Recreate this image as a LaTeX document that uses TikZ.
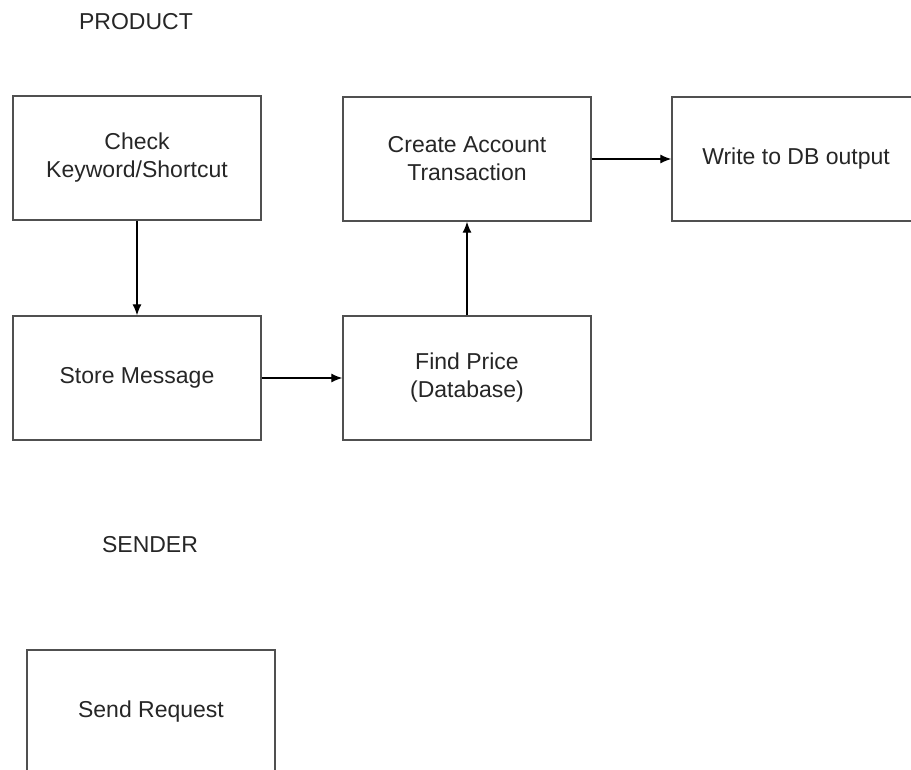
\documentclass[tikz,border=0pt]{standalone}
\usepackage{fontspec}
\setmainfont{Liberation Sans}
\usetikzlibrary{arrows.meta}
\definecolor{boxline}{HTML}{505050}
\definecolor{inktext}{HTML}{262626}
\tikzset{
  stepbox/.style={draw=boxline, line width=1.4pt, fill=white, rectangle,
    minimum width=248pt, minimum height=124pt, inner sep=0pt,
    align=center, text=inktext, font=\fontsize{23}{28}\selectfont},
  heading/.style={text=inktext, font=\fontsize{23}{28}\selectfont},
  flow/.style={draw=black, line width=1.2pt, -{Latex[length=11pt,width=9pt]}}
}
\begin{document}
\begin{tikzpicture}[x=1pt,y=-1pt]
  \clip (0,0) rectangle (911,769);
  \fill[white] (0,0) rectangle (911,769);

  % section headings
  \node[heading] (product) at (136,22) {PRODUCT};
  \node[heading] (sender) at (150,545) {SENDER};

  % product flow
  \node[stepbox] (check)  at (137,158) {Check\\Keyword/Shortcut};
  \node[stepbox] (store)  at (137,378) {Store Message};
  \node[stepbox] (find)   at (467,378) {Find Price\\(Database)};
  \node[stepbox] (create) at (467,159) {Create Account\\Transaction};
  \node[stepbox] (write)  at (796,159) {Write to DB output};

  % sender
  \node[stepbox] (send) at (151,712) {Send Request};

  % connectors
  \draw[flow] (check.south) -- (store.north);
  \draw[flow] (store.east) -- (find.west);
  \draw[flow] (find.north) -- (create.south);
  \draw[flow] (create.east) -- (write.west);
\end{tikzpicture}
\end{document}
